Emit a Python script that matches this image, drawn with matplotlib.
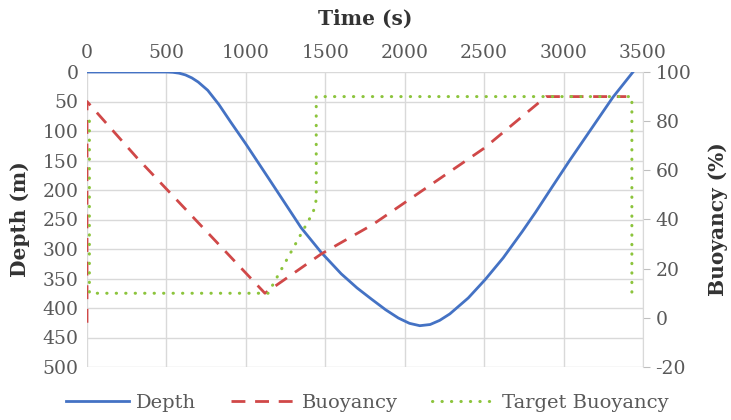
import matplotlib.pyplot as plt

# data
depth_t = [0, 500, 540, 580, 620, 660, 700, 760, 830, 905, 1000, 1150, 1348, 1475,
           1600, 1700, 1791, 1880, 1960, 2030, 2095, 2160, 2220, 2284, 2400, 2506,
           2620, 2741, 2823, 2930, 3038, 3150, 3310, 3437]
depth_m = [0, 0, 0.5, 2, 5, 10, 17, 31, 55, 85, 122, 183, 264, 306,
           342, 366, 385, 403, 417, 426, 430, 428, 421, 410, 383, 352,
           315, 270, 238, 194, 150, 106, 43, 0]

buoy_t = [0, 0, 316, 1120, 1475, 1800, 2500, 2890, 3395]
buoy_pct = [-2, 88, 65, 10, 26, 38, 69, 90, 90]

target_t = [15, 15, 1140, 1424, 1443, 1443, 3430, 3430]
target_pct = [80, 10, 10, 43, 48, 90, 90, 10]

grey = '#595959'
grid = '#d9d9d9'
plt.rcParams['font.family'] = ['DejaVu Serif']
plt.rcParams['axes.unicode_minus'] = False

fig = plt.figure(figsize=(7.31, 4.2), dpi=100)
ax = fig.add_axes([87/731, 1-367/420, (643-87)/731, (367-72)/420])
ax2 = ax.twinx()

l1, = ax.plot(depth_t, depth_m, color='#4472c4', lw=2.0, label='Depth')
l2, = ax2.plot(buoy_t, buoy_pct, color='#d04848', lw=2.0, ls=(0, (5, 3.5)), label='Buoyancy')
l3, = ax2.plot(target_t, target_pct, color='#8cc43c', lw=2.2, ls=(0, (0.1, 3.0)),
               dash_capstyle='round', label='Target Buoyancy')

ax.set_xlim(0, 3500)
ax.set_ylim(500, 0)
ax.set_xticks(range(0, 3501, 500))
ax.set_yticks(range(0, 501, 50))
ax2.set_ylim(-20, 100)
ax2.set_yticks(range(-20, 101, 20))

ax.xaxis.tick_top()
ax.xaxis.set_label_position('top')
ax.grid(True, color=grid, lw=1)
ax.set_axisbelow(True)
for s in ax.spines.values():
    s.set_visible(False)
for s in ax2.spines.values():
    s.set_visible(False)
ax2.spines['right'].set_visible(True)
ax2.spines['right'].set_color(grid)

ax.tick_params(axis='both', length=0, colors=grey, labelsize=13.5, pad=6)
ax.tick_params(axis='x', pad=7)
ax2.tick_params(axis='y', length=5, color='#bfbfbf', labelcolor=grey, labelsize=13.5, pad=4)

ax.set_xlabel('Time (s)', fontsize=14.5, fontweight='bold', color='#333333', labelpad=14)
ax.set_ylabel('Depth (m)', fontsize=14.5, fontweight='bold', color='#333333', labelpad=9)
ax2.set_ylabel('Buoyancy (%)', fontsize=14.5, fontweight='bold', color='#333333', labelpad=12)

fig.legend(handles=[l1, l2, l3], loc='center', bbox_to_anchor=(0.503, 1-403/420), ncol=3,
           frameon=False, fontsize=14, labelcolor=grey, handlelength=3.2,
           columnspacing=1.8, handletextpad=0.4)

fig.savefig('out.png', dpi=100)
